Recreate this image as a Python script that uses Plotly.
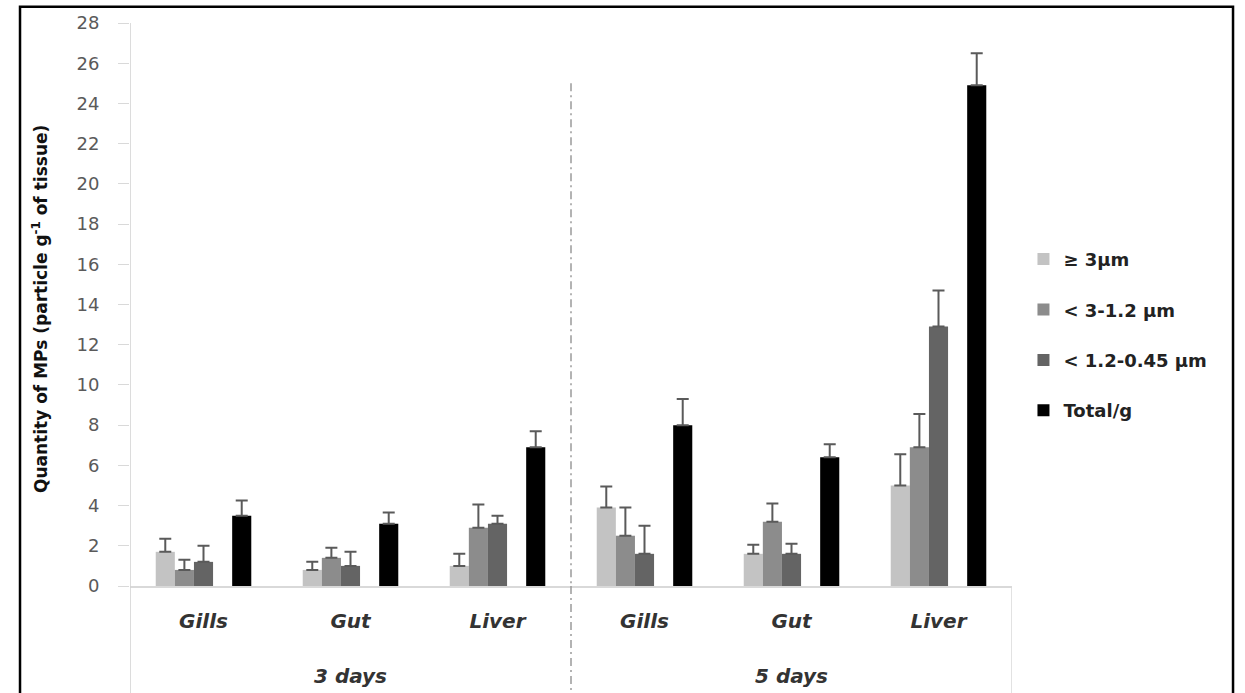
import plotly.graph_objects as go

# Tissue groups along the x axis
organs = ["Gills", "Gut", "Liver", "Gills", "Gut", "Liver"]
periods = ["3 days", "5 days"]

# Mean particle counts per size class (particle g-1 of tissue)
size_ge3 = [1.7, 0.8, 1.0, 3.9, 1.6, 5.0]
size_3_12 = [0.8, 1.4, 2.9, 2.5, 3.2, 6.9]
size_12_045 = [1.2, 1.0, 3.1, 1.6, 1.6, 12.9]
total_g = [3.5, 3.1, 6.9, 8.0, 6.4, 24.9]

# Upper error (SD)
err_ge3 = [0.65, 0.4, 0.6, 1.05, 0.45, 1.55]
err_3_12 = [0.5, 0.5, 1.15, 1.4, 0.9, 1.65]
err_12_045 = [0.8, 0.7, 0.4, 1.4, 0.5, 1.8]
err_total = [0.75, 0.55, 0.8, 1.3, 0.65, 1.6]

series_names = ["\u2265 3\u00b5m", "< 3-1.2 \u00b5m", "< 1.2-0.45 \u00b5m", "Total/g"]
series_vals = [size_ge3, size_3_12, size_12_045, total_g]
series_errs = [err_ge3, err_3_12, err_12_045, err_total]
series_colors = ["#c3c3c3", "#8c8c8c", "#646464", "#000000"]

xpos = list(range(len(organs)))
slot = 0.13
slot_offsets = [-2.5, -1.5, -0.5, 1.5]

LABEL_FONT = "DejaVu Sans, sans-serif"

fig = go.Figure()
for name, vals, errs, color, off in zip(series_names, series_vals, series_errs,
                                        series_colors, slot_offsets):
    fig.add_trace(go.Bar(
        x=xpos, y=vals, name=name,
        width=slot, offset=off * slot,
        marker=dict(color=color, line=dict(width=0)),
        error_y=dict(type="data", symmetric=False, array=errs,
                     arrayminus=[0] * len(errs),
                     color="#5a5a5a", thickness=2, width=6),
        legendgroup=name,
    ))

yb = -0.19  # bottom of the category frame, in paper units

shapes = [
    # outer frame
    dict(type="rect", xref="paper", yref="paper", x0=-0.1247, x1=1.2506,
         y0=-0.3, y1=1.029, line=dict(color="#000000", width=2.5)),
    # value axis line, continued through the category area
    dict(type="line", xref="x", yref="paper", x0=-0.5, x1=-0.5, y0=yb, y1=1.0,
         line=dict(color="#d0d0d0", width=1.5)),
    # right edge of category area
    dict(type="line", xref="x", yref="paper", x0=5.5, x1=5.5, y0=yb, y1=0,
         line=dict(color="#d9d9d9", width=1.5)),
    # separator between exposure periods
    dict(type="line", xref="x", yref="y", x0=2.5, x1=2.5, y0=25, y1=0,
         line=dict(color="#9a9a9a", width=1.5, dash="8px,4px,2px,4px")),
    dict(type="line", xref="x", yref="paper", x0=2.5, x1=2.5, y0=0, y1=yb,
         line=dict(color="#9a9a9a", width=1.5, dash="8px,4px,2px,4px")),
]

annotations = [
    dict(text="Quantity of MPs (particle g<sup>-1</sup> of tissue)",
         xref="paper", yref="paper", x=-0.102, y=0.492, textangle=-90,
         showarrow=False, xanchor="center", yanchor="middle",
         font=dict(family=LABEL_FONT, size=17, color="#111111", weight="bold")),
]
for i, p in enumerate(periods):
    annotations.append(dict(
        text="<i>" + p + "</i>", xref="x", yref="paper", x=1 + 3 * i, y=-0.159,
        showarrow=False, xanchor="center", yanchor="middle",
        font=dict(family=LABEL_FONT, size=20, color="#333333", weight="bold")))

fig.update_layout(
    width=1245, height=693,
    margin=dict(l=130, r=233, t=19, b=107),
    paper_bgcolor="white", plot_bgcolor="white",
    barmode="overlay",
    showlegend=True,
    legend=dict(x=1.013, y=0.446, xanchor="left", yanchor="middle",
                font=dict(family=LABEL_FONT, size=18, color="#222222", weight="bold"),
                tracegroupgap=24, itemwidth=30, bgcolor="rgba(0,0,0,0)"),
    xaxis=dict(range=[-0.5, 5.5], tickvals=xpos,
               ticktext=["<i>" + o + "</i>" for o in organs],
               showgrid=False, zeroline=False, showline=True,
               linecolor="#d9d9d9", linewidth=1.5, ticks="",
               ticklabelstandoff=16,
               tickfont=dict(family=LABEL_FONT, size=20, color="#333333", weight="bold")),
    yaxis=dict(range=[0, 28], tickvals=list(range(0, 29, 2)),
               showgrid=False, zeroline=False, showline=False,
               ticks="outside", ticklen=11, tickcolor="#d9d9d9", tickwidth=1,
               ticklabelstandoff=15,
               tickfont=dict(family="DejaVu Sans", size=18, color="#5a5a5a")),
    yaxis2=dict(range=[0, 28], overlaying="y", side="left",
                tickvals=list(range(0, 29, 2)), showticklabels=False,
                ticks="inside", ticklen=11, tickcolor="#d9d9d9", tickwidth=1,
                showgrid=False, zeroline=False, showline=False),
    shapes=shapes,
    annotations=annotations,
)

fig.write_html("out.html")
